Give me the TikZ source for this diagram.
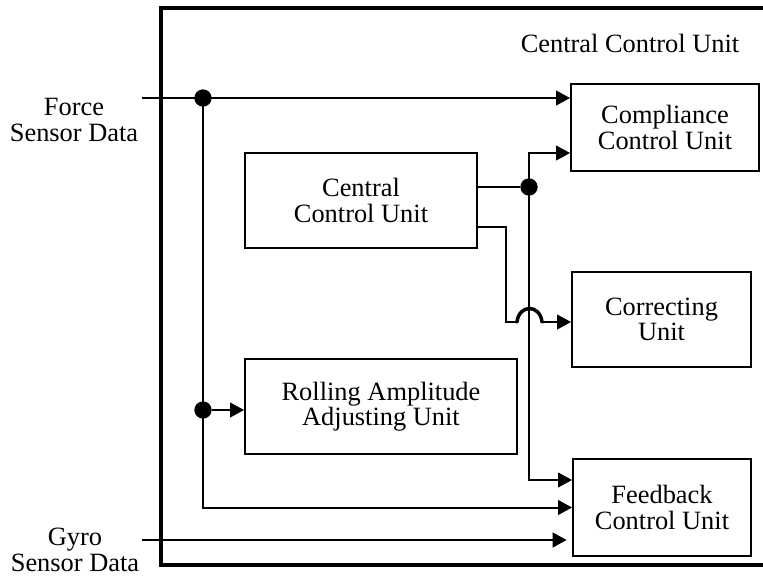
\documentclass[tikz,border=0pt]{standalone}
\usepackage{fontspec}
\setmainfont{Liberation Serif}
\usetikzlibrary{positioning, arrows.meta}

\begin{document}
\begin{tikzpicture}[x=0.75pt, y=-0.75pt,
    every node/.style={font=\fontsize{19.8}{19}\selectfont, align=center},
    unit/.style={draw, line width=1.4pt, inner sep=0pt},
    dot/.style={circle, fill=black, inner sep=0pt, minimum size=13pt},
    wire/.style={line width=1.5pt},
    arr/.style={wire, -{Triangle[length=10.5pt, width=11pt]}}]
            \useasboundingbox (0,0) rectangle (763,576);
            \clip (0,0) rectangle (763,576);
            \draw[line width=3pt] (161,8) rectangle (800,565);
            \node (title) at (630,43) {Central Control Unit};
            \node (force) at (74,120) {Force\\Sensor Data};
            \node (gyro) at (75,550) {Gyro\\Sensor Data};
            \node[unit, minimum width=141pt, minimum height=65.25pt] (comp) at (665,127.5) {Compliance\\Control Unit};
            \node[unit, minimum width=134.25pt, minimum height=71.25pt] (corr) at (661.5,319.5) {Correcting\\Unit};
            \node[unit, minimum width=133.5pt, minimum height=72.75pt] (feed) at (662,507.5) {Feedback\\Control Unit};
            \node[unit, minimum width=174pt, minimum height=71.25pt] (cen) at (361,200.5) {Central\\Control Unit};
            \node[unit, minimum width=204pt, minimum height=71.25pt] (roll) at (381,406.5) {Rolling Amplitude\\Adjusting Unit};
            \coordinate (fin) at (142,98);
            \coordinate (gin) at (142,540);
            \node[dot] (j1) at (203,98) {};
            \node[dot] (j2) at (203,410) {};
            \node[dot] (j3) at (529,187) {};
            \coordinate (k1) at (529,153);
            \coordinate (k2) at (529,480);
            \coordinate (k3) at (506,227);
            \coordinate (k4) at (506,322);
            \coordinate (h1) at (517,322);
            \coordinate (h2) at (542,322);
            \draw[arr] (fin) -- (fin -| comp.west);
            \draw[arr] (j1.center) |- (feed.west);
            \draw[arr] (j2) -- (j2 -| roll.west);
            \draw[arr, shorten >=4pt] (gin) -- (gin -| feed.west);
            \draw[wire] (cen.east |- j3) -- (j3);
            \draw[arr] (j3.center) -- (k1) -- (k1 -| comp.west);
            \draw[arr] (j3.center) -- (k2) -- (k2 -| feed.west);
            \draw[wire] (cen.east |- k3) -- (k3) -- (k4) -- (h1);
            \draw[line width=2.6pt, line cap=round] (h1) .. controls (519,304) and (540,304) .. (h2);
            \draw[arr] (h2) -- (h2 -| corr.west);
        \end{tikzpicture}
\end{document}
